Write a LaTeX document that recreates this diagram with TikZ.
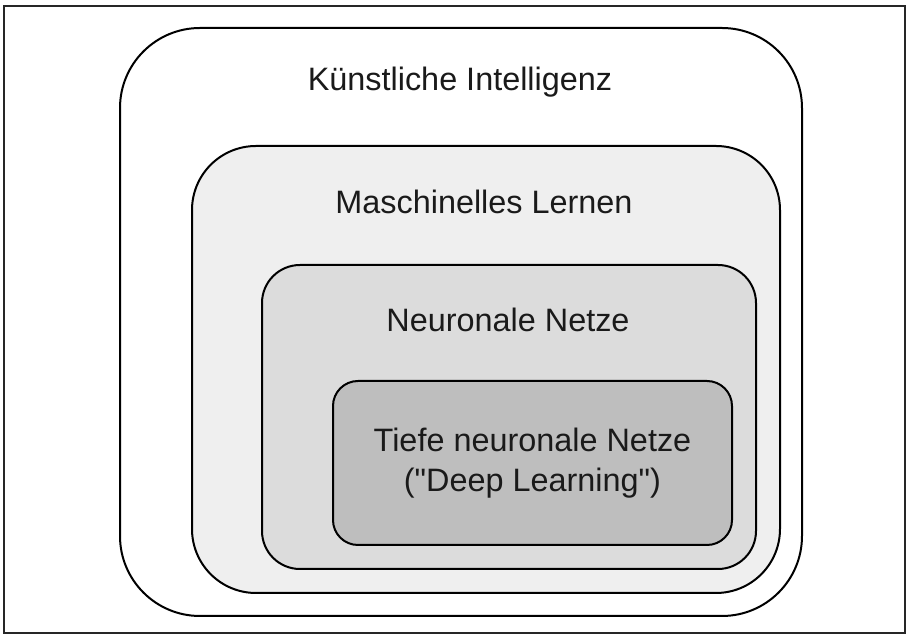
\documentclass[tikz,border=0pt]{standalone}
\usepackage{fontspec}
\setmainfont{Liberation Sans}[Ligatures=TeXOff]
\usepackage{xcolor}
\definecolor{ink}{HTML}{1A1A1A}
\definecolor{lay1}{HTML}{EFEFEF}
\definecolor{lay2}{HTML}{DCDCDC}
\definecolor{lay3}{HTML}{BEBEBE}
\usepackage{tikz}
\usetikzlibrary{positioning}
\tikzset{
  area/.style={draw=black,line width=1pt,inner sep=0pt,fill=white},
  lab/.style={font=\fontsize{16.2pt}{20pt}\selectfont,text=ink,align=center,inner sep=0pt},
}

\begin{document}
\begin{tikzpicture}[x=0.5pt,y=-0.5pt]
\useasboundingbox (0,0) rectangle (907,635);
\draw[line width=0.7pt,draw=black!85] (4,6) rectangle (905,633);
% nested areas, outside in
\node[area,rounded corners=40pt,minimum width=341pt,minimum height=294pt] (ki) at (461,322) {};
\node[area,fill=lay1,rounded corners=32pt,minimum width=294pt,minimum height=223.5pt] (ml) at (486,369.5) {};
\node[area,fill=lay2,rounded corners=19pt,minimum width=247pt,minimum height=152pt] (nn) at (509,417) {};
\node[area,fill=lay3,rounded corners=12.5pt,minimum width=199.5pt,minimum height=82pt] (dl) at (532.5,463) {};
% labels
\node[lab] (kilab) at (460,82) {Künstliche Intelligenz};
\node[lab] (mllab) at (484,202) {Maschinelles Lernen};
\node[lab] (nnlab) at (508,320) {Neuronale Netze};
\node[lab] (dllab) at (dl) {Tiefe neuronale Netze\\ ("Deep Learning")};
\end{tikzpicture}
\end{document}
